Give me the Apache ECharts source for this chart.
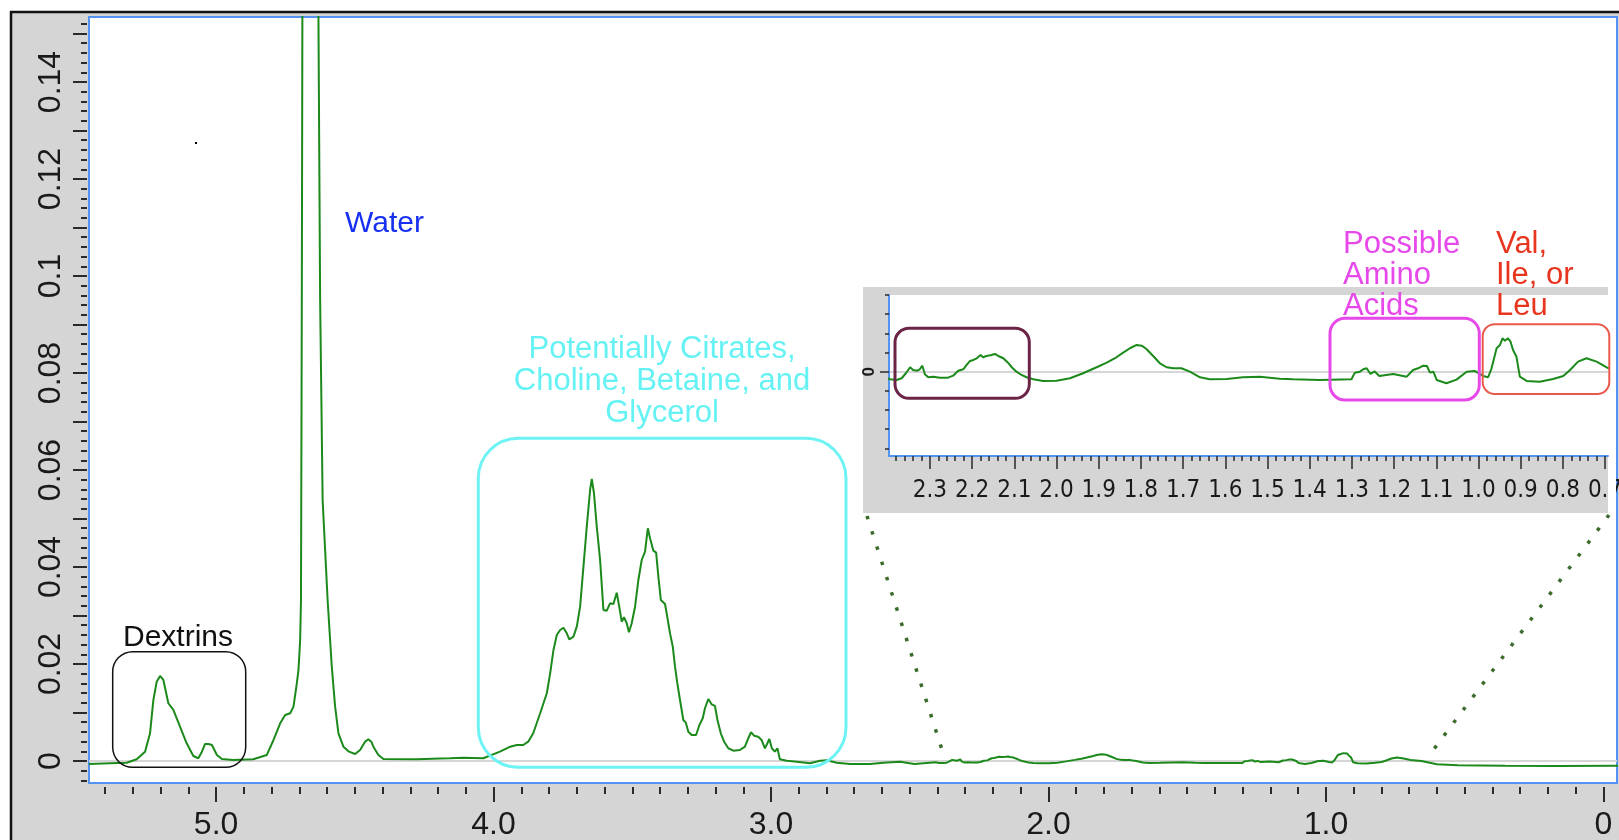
<!DOCTYPE html>
<html>
<head>
<meta charset="utf-8">
<title>1H NMR spectrum</title>
<script src="https://cdn.jsdelivr.net/npm/echarts@6/dist/echarts.min.js"></script>
<style>
  html, body { margin: 0; padding: 0; background: #fff; }
  #chart { width: 1619px; height: 840px; }
</style>
</head>
<body>
<div id="chart"></div>
<script>
// [chemical shift ppm, intensity], high ppm first
var dextrinRegion = [
  [5.458, -0.00062], [5.382, -0.00047], [5.322, -0.00035], [5.286, 0.00035], [5.256, 0.00192],
  [5.238, 0.00571], [5.226, 0.01258], [5.214, 0.01635], [5.202, 0.01753], [5.190, 0.0167],
  [5.172, 0.0119], [5.154, 0.01052], [5.130, 0.00707], [5.106, 0.00365], [5.082, 0.00103],
  [5.064, 0.00056], [5.051, 0.00192], [5.040, 0.0035], [5.027, 0.0035], [5.015, 0.0033],
  [4.997, 0.00124], [4.979, 0.00041], [4.938, 0.00021], [4.866, 0.00035]
];
var waterRegion = [
  [4.817, 0.00124], [4.793, 0.00433], [4.769, 0.00777], [4.751, 0.00948], [4.733, 0.00984],
  [4.721, 0.0112], [4.709, 0.0160], [4.703, 0.01876], [4.697, 0.02495], [4.694, 0.0332],
  [4.691, 0.0951], [4.689, 0.1528], [4.688, 0.2], [4.660, 0.62], [4.632, 0.2],
  [4.631, 0.1528], [4.625, 0.0951], [4.616, 0.0538], [4.598, 0.0332], [4.583, 0.01944],
  [4.571, 0.0112], [4.559, 0.00571], [4.541, 0.00295], [4.521, 0.00192], [4.499, 0.00144],
  [4.481, 0.00227], [4.463, 0.00398], [4.451, 0.00447], [4.440, 0.00392], [4.433, 0.00295],
  [4.415, 0.00124], [4.397, 0.00041], [4.277, 0.00035], [4.193, 0.00052]
];
var citrateRegion = [
  [4.157, 0.00056], [4.109, 0.00068], [4.037, 0.00056], [3.977, 0.00192], [3.940, 0.00295],
  [3.916, 0.0033], [3.893, 0.0033], [3.875, 0.00398], [3.857, 0.00571], [3.832, 0.00984],
  [3.808, 0.01396], [3.796, 0.01808], [3.784, 0.02289], [3.772, 0.02598], [3.760, 0.02701],
  [3.748, 0.02748], [3.736, 0.02633], [3.727, 0.02509], [3.712, 0.02563], [3.700, 0.02769],
  [3.688, 0.03181], [3.676, 0.04006], [3.664, 0.04831], [3.652, 0.05588], [3.646, 0.05814],
  [3.638, 0.0552], [3.628, 0.04831], [3.616, 0.04144], [3.604, 0.03113], [3.592, 0.03099],
  [3.580, 0.03251], [3.568, 0.03237], [3.556, 0.0347], [3.547, 0.03181], [3.538, 0.02872],
  [3.530, 0.02963], [3.520, 0.02839], [3.512, 0.02654], [3.502, 0.02839], [3.490, 0.03181],
  [3.478, 0.03732], [3.466, 0.04144], [3.454, 0.04316], [3.444, 0.04798], [3.436, 0.04592],
  [3.424, 0.04336], [3.414, 0.04295], [3.406, 0.038], [3.397, 0.0332], [3.382, 0.03237],
  [3.376, 0.03045], [3.364, 0.02633], [3.354, 0.02357], [3.346, 0.01944], [3.338, 0.01614],
  [3.328, 0.01258], [3.316, 0.00845], [3.307, 0.0079], [3.298, 0.00604], [3.286, 0.00536],
  [3.270, 0.00536], [3.258, 0.00742], [3.246, 0.0088], [3.238, 0.01087], [3.226, 0.01278],
  [3.214, 0.01169], [3.202, 0.01134], [3.193, 0.00845], [3.181, 0.00571], [3.169, 0.00398],
  [3.154, 0.00262], [3.136, 0.00212], [3.112, 0.00227], [3.094, 0.00295], [3.082, 0.00468],
  [3.072, 0.00592], [3.061, 0.00522], [3.046, 0.00501], [3.034, 0.00433], [3.022, 0.00262],
  [3.013, 0.00365], [3.006, 0.00454], [2.997, 0.00262], [2.986, 0.00192], [2.977, 0.00262],
  [2.968, 0.00035], [2.943, 0.00006], [2.907, -0.00014], [2.859, -0.00047], [2.823, 0.00006],
  [2.799, 0.00014], [2.763, -0.00035], [2.715, -0.00062], [2.643, -0.00062], [2.595, -0.00035],
  [2.535, -0.00014], [2.483, -0.00062], [2.406, -0.00027]
];
// 2.40 - 0.69 ppm
var insetRegion = [
  [2.395, -0.000396], [2.379, -0.000433], [2.367, -0.000344], [2.357, -0.000083], [2.347, 0.00023],
  [2.340, 0.000089], [2.330, 0.000052], [2.324, 0.000125], [2.318, 0.000313], [2.312, -0.000136],
  [2.304, -0.000292], [2.292, -0.000261], [2.276, -0.000313], [2.257, -0.000313], [2.245, -0.000209],
  [2.233, 0.000052], [2.221, 0.000125], [2.213, 0.00035], [2.205, 0.000558], [2.197, 0.00061],
  [2.189, 0.000699], [2.180, 0.000871], [2.174, 0.000751], [2.166, 0.000819], [2.154, 0.000871],
  [2.146, 0.000923], [2.138, 0.000819], [2.126, 0.000699], [2.115, 0.000469], [2.106, 0.00023],
  [2.095, 0], [2.083, -0.000172], [2.071, -0.000292], [2.055, -0.000396], [2.032, -0.000485],
  [2.000, -0.000469], [1.968, -0.000344], [1.937, -0.000083], [1.905, 0.00023], [1.881, 0.000469],
  [1.858, 0.000751], [1.842, 0.000991], [1.826, 0.001221], [1.810, 0.001393], [1.798, 0.001356],
  [1.787, 0.001184], [1.771, 0.000819], [1.755, 0.000438], [1.739, 0.00023], [1.724, 0.000177],
  [1.704, 0.000177], [1.684, 0], [1.660, -0.000292], [1.637, -0.000396], [1.597, -0.000381],
  [1.558, -0.000292], [1.518, -0.000261], [1.471, -0.000365], [1.439, -0.000396], [1.376, -0.000433],
  [1.301, -0.000396], [1.293, -0.000052], [1.281, 0], [1.273, 0.000125], [1.265, 0.000177],
  [1.256, -0.00012], [1.246, 0.00001], [1.235, -0.000224], [1.202, -0.00012], [1.170, -0.000261],
  [1.155, 0.000089], [1.143, 0.000177], [1.132, 0.000308], [1.122, 0.000297], [1.115, -0.000052],
  [1.107, 0], [1.099, -0.000433], [1.076, -0.000605], [1.052, -0.000417], [1.028, 0],
  [1.009, 0.000037], [0.989, -0.000224], [0.977, -0.000292], [0.969, 0.000177], [0.957, 0.001221],
  [0.949, 0.001393], [0.943, 0.001742], [0.937, 0.001617], [0.930, 0.001742], [0.924, 0.001565],
  [0.918, 0.001132], [0.910, 0.000782], [0.902, -0.000261], [0.886, -0.000485], [0.855, -0.000522],
  [0.823, -0.000381], [0.799, -0.000224], [0.783, 0.000089], [0.764, 0.000522], [0.744, 0.000699],
  [0.720, 0.000522], [0.695, 0.000209]
];
var upfieldTail = [
  [0.656, 0], [0.600, -0.00068], [0.524, -0.00089], [0.355, -0.00097], [0.167, -0.00103], [-0.055, -0.00097]
];

var spectrum = [].concat(dextrinRegion, waterRegion, citrateRegion, insetRegion, upfieldTail);

// tick labels
var mainXLabels = [0, 1, 2, 3, 4, 5];
var mainYLabels = [0, 0.02, 0.04, 0.06, 0.08, 0.1, 0.12, 0.14];
var insetXLabels = [0.7, 0.8, 0.9, 1.0, 1.1, 1.2, 1.3, 1.4, 1.5, 1.6, 1.7, 1.8, 1.9, 2.0, 2.1, 2.2, 2.3];

function steps(from, to, step) {
  var out = [];
  for (var i = 0; ; i++) {
    var v = +(from + i * step).toFixed(6);
    if (v > to + 1e-9) break;
    out.push(v);
  }
  return out;
}

var green = '#1b8a1b';
var tickColor = '#2a2a2a';
var frameBlue = '#5393f2';
var font = '"Liberation Sans", Arial, sans-serif';
var narrowFont = '"Liberation Sans Narrow", "DejaVu Sans Condensed", "Liberation Sans", sans-serif';

var chart = echarts.init(document.getElementById('chart'));

function zeroLine(xi, yi, z) {
  // empty series that only carries the grey baseline, kept under the spectrum
  return {
    type: 'line', xAxisIndex: xi, yAxisIndex: yi, data: [], z: z, silent: true,
    markLine: { z: z, silent: true, symbol: 'none', label: { show: false }, animation: false,
      lineStyle: { color: '#d6d6d6', width: 2, type: 'solid' }, data: [{ yAxis: 0 }] }
  };
}

var option = {
  animation: false,
  grid: [
    { left: 89, right: 2, top: 17, bottom: 57, show: true, backgroundColor: '#fff',
      borderColor: frameBlue, borderWidth: 2, z: 0, outerBoundsMode: 'none', containLabel: false },
    { left: 889, right: 11, top: 295, bottom: 384, show: true, backgroundColor: '#fff',
      borderWidth: 0, z: 4, outerBoundsMode: 'none', containLabel: false }
  ],
  xAxis: [
    { // main, labelled ticks
      type: 'value', gridIndex: 0, position: 'bottom', min: -0.049, max: 5.458, inverse: true, offset: 4,
      axisLine: { show: false, onZero: false }, splitLine: { show: false },
      axisTick: { customValues: mainXLabels, length: 15, lineStyle: { color: tickColor, width: 2 } },
      axisLabel: { customValues: mainXLabels, margin: 22, fontSize: 32, fontFamily: font, color: '#1a1a1a',
        formatter: function (v) { return v === 0 ? '0' : v.toFixed(1); } }
    },
    { // main, minor ticks
      type: 'value', gridIndex: 0, position: 'bottom', min: -0.049, max: 5.458, inverse: true, offset: 4,
      axisLine: { show: false, onZero: false }, splitLine: { show: false }, axisLabel: { show: false },
      axisTick: { customValues: steps(0, 5.4, 0.1), length: 7, lineStyle: { color: tickColor, width: 2 } }
    },
    { // inset, labelled ticks
      type: 'value', gridIndex: 1, position: 'bottom', min: 0.693, max: 2.397, inverse: true, z: 6,
      axisLine: { show: true, onZero: false, lineStyle: { color: frameBlue, width: 2 } }, splitLine: { show: false },
      axisTick: { customValues: insetXLabels, length: 13, lineStyle: { color: tickColor, width: 1.5 } },
      axisLabel: { customValues: insetXLabels, margin: 23, fontSize: 24, fontFamily: narrowFont, color: '#1a1a1a',
        formatter: function (v) { return v.toFixed(1); } }
    },
    { // inset, minor ticks
      type: 'value', gridIndex: 1, position: 'bottom', min: 0.693, max: 2.397, inverse: true, z: 6,
      axisLine: { show: false, onZero: false }, splitLine: { show: false }, axisLabel: { show: false },
      axisTick: { customValues: steps(0.7, 2.38, 0.02), length: 5, lineStyle: { color: tickColor, width: 1.5 } }
    }
  ],
  yAxis: [
    { // main, long ticks + labels
      type: 'value', gridIndex: 0, position: 'left', min: -0.00454, max: 0.1534, offset: 2,
      axisLine: { show: false, onZero: false }, splitLine: { show: false },
      axisTick: { customValues: steps(0, 0.15, 0.01), length: 14, lineStyle: { color: tickColor, width: 2 } },
      axisLabel: { customValues: mainYLabels, rotate: 90, margin: 20, fontSize: 32, fontFamily: font, color: '#1a1a1a' }
    },
    { // main, minor ticks
      type: 'value', gridIndex: 0, position: 'left', min: -0.00454, max: 0.1534, offset: 2,
      axisLine: { show: false, onZero: false }, splitLine: { show: false }, axisLabel: { show: false },
      axisTick: { customValues: steps(-0.004, 0.152, 0.002), length: 6, lineStyle: { color: tickColor, width: 2 } }
    },
    { // inset
      type: 'value', gridIndex: 1, position: 'left', min: -0.0044, max: 0.004, z: 6,
      axisLine: { show: true, onZero: false, lineStyle: { color: frameBlue, width: 2 } }, splitLine: { show: false },
      axisLabel: { show: false },
      axisTick: { customValues: steps(-0.004, 0.004, 0.001), length: 4, lineStyle: { color: tickColor, width: 1.5 } }
    },
    { // inset zero tick
      type: 'value', gridIndex: 1, position: 'left', min: -0.0044, max: 0.004, z: 6,
      axisLine: { show: false, onZero: false }, splitLine: { show: false },
      axisTick: { customValues: [0], length: 9, lineStyle: { color: tickColor, width: 1.5 } },
      axisLabel: { customValues: [0], rotate: 90, margin: 11, fontSize: 17, fontWeight: 'bold', fontFamily: font, color: '#1a1a1a' }
    }
  ],
  series: [
    zeroLine(0, 0, 1),
    {
      type: 'line', xAxisIndex: 0, yAxisIndex: 0, data: spectrum, showSymbol: false, z: 2,
      lineStyle: { color: green, width: 2 }
    },
    zeroLine(2, 2, 5),
    {
      type: 'line', xAxisIndex: 2, yAxisIndex: 2, data: spectrum, showSymbol: false, z: 7,
      lineStyle: { color: green, width: 2 }
    }
  ],
  graphic: {
    elements: [
      // outer frame
      { type: 'rect', z: -10, shape: { x: 11, y: 12, width: 1608, height: 828 }, style: { fill: '#d5d5d5' } },
      { type: 'line', z: -9, shape: { x1: 10, y1: 12, x2: 1619, y2: 12 }, style: { stroke: '#111', lineWidth: 2.5 } },
      { type: 'line', z: -9, shape: { x1: 11, y1: 11, x2: 11, y2: 840 }, style: { stroke: '#111', lineWidth: 2.5 } },
      { type: 'rect', z: 20, shape: { x: 195, y: 142, width: 2, height: 2 }, style: { fill: '#000' } },

      // inset panel
      { type: 'rect', z: 3, shape: { x: 863, y: 287, width: 745, height: 226 }, style: { fill: '#d5d5d5' } },
      { type: 'rect', z: 8, shape: { x: 1609, y: 458, width: 7, height: 56 }, style: { fill: '#fff' } },

      // zoom leader lines
      { type: 'line', z: 20, shape: { x1: 867, y1: 516, x2: 945, y2: 759 },
        style: { stroke: '#3b6c2c', lineWidth: 3.5, lineDash: [3.5, 12.5] } },
      { type: 'line', z: 20, shape: { x1: 1609, y1: 515, x2: 1428, y2: 757 },
        style: { stroke: '#3b6c2c', lineWidth: 3.5, lineDash: [3.5, 12.5] } },

      // region boxes
      { type: 'rect', z: 20, shape: { x: 112.7, y: 651.7, width: 133, height: 115.6, r: 20 },
        style: { fill: 'none', stroke: '#111', lineWidth: 1.5 } },
      { type: 'rect', z: 20, shape: { x: 478.3, y: 438.3, width: 367.7, height: 329, r: 40 },
        style: { fill: 'none', stroke: '#6ef3f5', lineWidth: 3 } },
      { type: 'rect', z: 20, shape: { x: 895, y: 328.3, width: 134.3, height: 70, r: 14 },
        style: { fill: 'none', stroke: '#6b2446', lineWidth: 3 } },
      { type: 'rect', z: 20, shape: { x: 1330, y: 318.3, width: 149.3, height: 81.7, r: 15 },
        style: { fill: 'none', stroke: '#e648ea', lineWidth: 3 } },
      { type: 'rect', z: 20, shape: { x: 1482.7, y: 324.3, width: 126.6, height: 69.7, r: 12 },
        style: { fill: 'none', stroke: '#ea5a4a', lineWidth: 2 } },

      // labels
      { type: 'text', z: 20, x: 345, y: 224,
        style: { text: 'Water', font: '30px ' + font, fill: '#1530f0',
          align: 'left', textAlign: 'left', verticalAlign: 'middle', textVerticalAlign: 'middle' } },
      { type: 'text', z: 20, x: 178, y: 638,
        style: { text: 'Dextrins', font: '30px ' + font, fill: '#111',
          align: 'center', textAlign: 'center', verticalAlign: 'middle', textVerticalAlign: 'middle' } },
      { type: 'text', z: 20, x: 662, y: 381,
        style: { text: 'Potentially Citrates,\nCholine, Betaine, and\nGlycerol', font: '31px ' + font,
          lineHeight: 32, fill: '#66f2f4',
          align: 'center', textAlign: 'center', verticalAlign: 'middle', textVerticalAlign: 'middle' } },
      { type: 'text', z: 20, x: 1343, y: 275,
        style: { text: 'Possible\nAmino\nAcids', font: '31px ' + font, lineHeight: 31, fill: '#e648ea',
          align: 'left', textAlign: 'left', verticalAlign: 'middle', textVerticalAlign: 'middle' } },
      { type: 'text', z: 20, x: 1496, y: 275,
        style: { text: 'Val,\nIle, or\nLeu', font: '31px ' + font, lineHeight: 31, fill: '#e8351f',
          align: 'left', textAlign: 'left', verticalAlign: 'middle', textVerticalAlign: 'middle' } }
    ]
  }
};

chart.setOption(option);
</script>
</body>
</html>
